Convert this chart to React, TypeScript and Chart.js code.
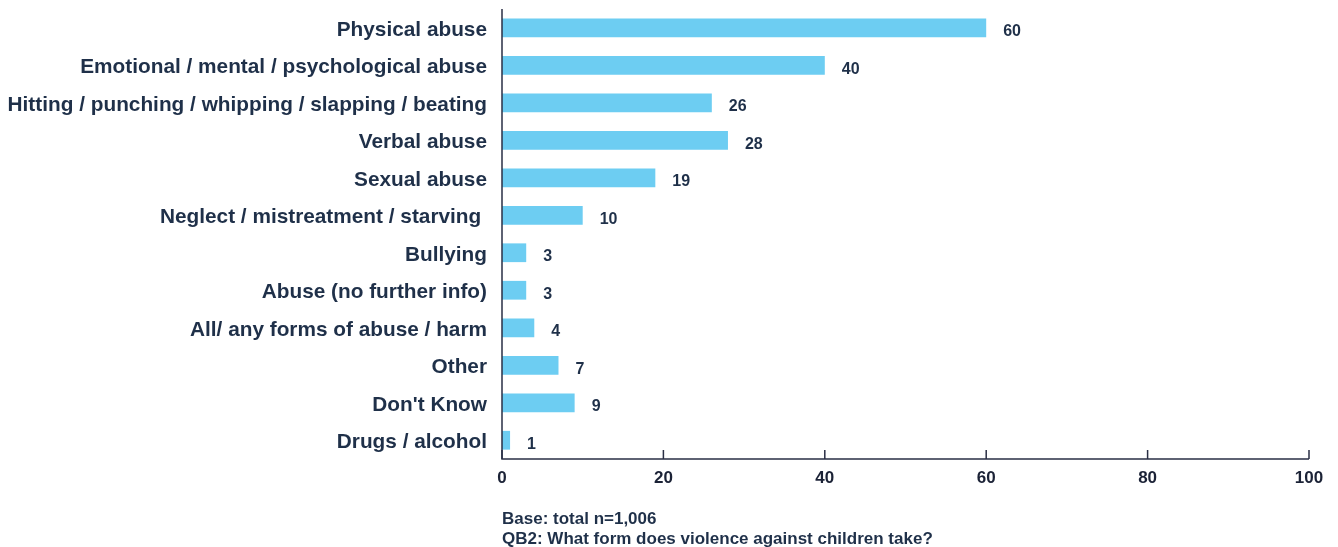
import React, { useEffect, useRef } from "react";
import { Chart, registerables } from "chart.js";

Chart.register(...registerables);

const categories = [
  "Physical abuse",
  "Emotional / mental / psychological abuse",
  "Hitting / punching / whipping / slapping / beating",
  "Verbal abuse",
  "Sexual abuse",
  "Neglect / mistreatment / starving ",
  "Bullying",
  "Abuse (no further info)",
  "All/ any forms of abuse / harm",
  "Other",
  "Don't Know",
  "Drugs / alcohol",
];
const values = [60, 40, 26, 28, 19, 10, 3, 3, 4, 7, 9, 1];
const xTicks = [0, 20, 40, 60, 80, 100];
const footnotes = ["Base: total n=1,006", "QB2: What form does violence against children take?"];

const TEXT = "#1f3049";
const TICK = "#1b2236";
const BAR = "#6dcdf2";
const FONT = "'Liberation Sans', Arial, sans-serif";

export default function App() {
  const ref = useRef<HTMLCanvasElement>(null);
  useEffect(() => {
    const canvas = ref.current!;
    const custom = {
      id: "custom",
      afterDatasetsDraw(chart: any) {
        const ctx = chart.ctx;
        const area = chart.chartArea;
        const xs = chart.scales.x;
        const meta = chart.getDatasetMeta(0);
        ctx.save();
        // value labels
        ctx.fillStyle = TEXT;
        ctx.font = `bold 16px ${FONT}`;
        ctx.textBaseline = "alphabetic";
        ctx.textAlign = "left";
        meta.data.forEach((bar: any, i: number) => {
          ctx.fillText(String(values[i]), bar.x + 17, bar.y + 8.4);
        });
        // axes
        ctx.strokeStyle = "#2a2f45";
        ctx.lineWidth = 1.5;
        ctx.beginPath();
        ctx.moveTo(area.left, area.top);
        ctx.lineTo(area.left, area.bottom);
        ctx.lineTo(area.right, area.bottom);
        ctx.stroke();
        ctx.beginPath();
        xTicks.forEach((t) => {
          const px = xs.getPixelForValue(t);
          ctx.moveTo(px, area.bottom);
          ctx.lineTo(px, area.bottom - 9);
        });
        ctx.stroke();
        // footnotes
        ctx.fillStyle = TEXT;
        ctx.font = `bold 17px ${FONT}`;
        ctx.textAlign = "left";
        ctx.textBaseline = "alphabetic";
        footnotes.forEach((f, i) => {
          ctx.fillText(f, area.left, 523.5 + i * 20.5);
        });
        ctx.restore();
      },
    };
    const chart = new Chart(canvas, {
      type: "bar",
      data: {
        labels: categories,
        datasets: [
          {
            data: values,
            backgroundColor: BAR,
            barPercentage: 0.5,
            categoryPercentage: 1,
          },
        ],
      },
      options: {
        indexAxis: "y",
        animation: false,
        responsive: false,
        maintainAspectRatio: false,
        layout: { padding: { top: 9, right: 29, left: 0, bottom: 0 } },
        plugins: { legend: { display: false }, tooltip: { enabled: false } },
        scales: {
          x: {
            min: 0,
            max: 100,
            afterBuildTicks: (s: any) => {
              s.ticks = xTicks.map((v) => ({ value: v }));
            },
            afterFit: (s: any) => {
              s.height = 88;
              s.paddingLeft = 0;
              s.paddingRight = 0;
            },
            grid: { display: false, drawTicks: false },
            border: { display: false },
            ticks: {
              color: TICK,
              font: { family: FONT, size: 17, weight: "bold" },
              padding: 9,
              maxRotation: 0,
            },
          },
          y: {
            afterFit: (s: any) => {
              s.width = 502;
              s.paddingTop = 0;
              s.paddingBottom = 0;
            },
            grid: { display: false, drawTicks: false },
            border: { display: false },
            ticks: {
              color: TEXT,
              font: { family: FONT, size: 20.8, weight: "bold" },
              padding: 15,
              labelOffset: 2.5,
            },
          },
        },
      },
      plugins: [custom],
    });
    return () => chart.destroy();
  }, []);
  return (
    <div style={{ position: "absolute", left: 0, top: 0, width: 1338, height: 547, background: "#fff" }}>
      <canvas ref={ref} width={1338} height={547} style={{ display: "block" }} />
    </div>
  );
}
